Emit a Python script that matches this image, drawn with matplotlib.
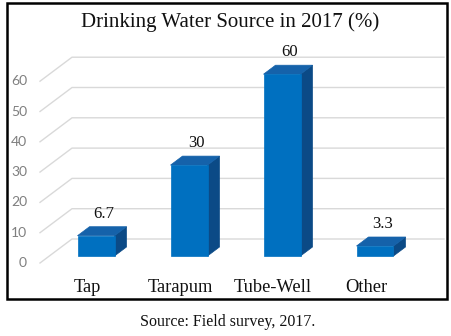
import matplotlib
matplotlib.use("Agg")
import matplotlib.pyplot as plt
from matplotlib.patches import Polygon, Rectangle

categories = ["Tap", "Tarapum", "Tube-Well", "Other"]
values = [6.7, 30, 60, 3.3]
value_labels = ["6.7", "30", "60", "3.3"]
yticks = [0, 10, 20, 30, 40, 50, 60]
ytick_labels = ["0", "10", "20", "30", "40", "50", "60"]

W, H = 452, 336
fig = plt.figure(figsize=(W / 100, H / 100), dpi=100)
fig.patch.set_facecolor("white")

# axes geometry (pixels)
L, R, T, B = 40, 444, 40, 263
ax = fig.add_axes([L / W, 1 - B / H, (R - L) / W, (B - T) / H])
ax.set_axis_off()
px_x = 93.0   # pixels per category
px_v = 3.03   # pixels per unit
x0 = 96.0     # pixel of first category
vfront = -7 / px_v
ax.set_xlim((L - x0) / px_x, (R - x0) / px_x)
ax.set_ylim(vfront, vfront + (B - T) / px_v)

# depth of wall and bars
wall_back_x = (72 - x0) / px_x
wall_front_x = (L - x0) / px_x
wall_back_v = 17 / px_v
bar_dx = 12 / px_x
bar_dy = 9 / px_v
half_w = 18.5 / px_x
xmax = (R - x0) / px_x

grid_c = "#d9d9d9"
for g in yticks:
    ax.plot([wall_front_x, wall_back_x, xmax],
            [g + vfront, g + wall_back_v, g + wall_back_v],
            color=grid_c, lw=1.0, clip_on=False, zorder=1)

for g, lab in zip(yticks, ytick_labels):
    ax.text((27 - x0) / px_x, g + vfront, lab, ha="right", va="center",
            fontsize=10, color="#7f7f7f", family="Lato", clip_on=False)

front_c = "#0070c0"
top_c = "#1562aa"
side_c = "#0b4a86"
for i, (v, lab, cat) in enumerate(zip(values, value_labels, categories)):
    xl, xr = i - half_w, i + half_w
    side = Polygon([(xr, 0), (xr + bar_dx, bar_dy), (xr + bar_dx, v + bar_dy), (xr, v)],
                   closed=True, facecolor=side_c, edgecolor=side_c, lw=0.5, zorder=3)
    top = Polygon([(xl, v), (xl + bar_dx, v + bar_dy), (xr + bar_dx, v + bar_dy), (xr, v)],
                  closed=True, facecolor=top_c, edgecolor=top_c, lw=0.5, zorder=3)
    front = Rectangle((xl, 0), xr - xl, v, facecolor=front_c, edgecolor=front_c, lw=0.5, zorder=4)
    ax.add_patch(side)
    ax.add_patch(top)
    ax.add_patch(front)
    ax.text(i + bar_dx * 0.65, v + bar_dy + 13 / px_v, lab, ha="center", va="center",
            fontsize=12, family="Liberation Serif", color="#111111", clip_on=False)
    ax.text(i - 9 / px_x, -31 / px_v, cat, ha="center", va="center",
            fontsize=13.3, family="Liberation Serif", color="#111111", clip_on=False)

fig.text(230 / W, 1 - 22 / H, "Drinking Water Source in 2017 (%)", ha="center", va="center",
         fontsize=15, family="Liberation Serif", color="#111111")
fig.text(228 / W, 1 - 322 / H, "Source: Field survey, 2017.", ha="center", va="center",
         fontsize=11.5, family="Liberation Serif", color="#111111")

fig.add_artist(Rectangle((7 / W, 1 - 299 / H), (447 - 7) / W, (299 - 3) / H,
                         transform=fig.transFigure, fill=False, edgecolor="black", lw=1.8))

fig.savefig("out.png", dpi=100)
